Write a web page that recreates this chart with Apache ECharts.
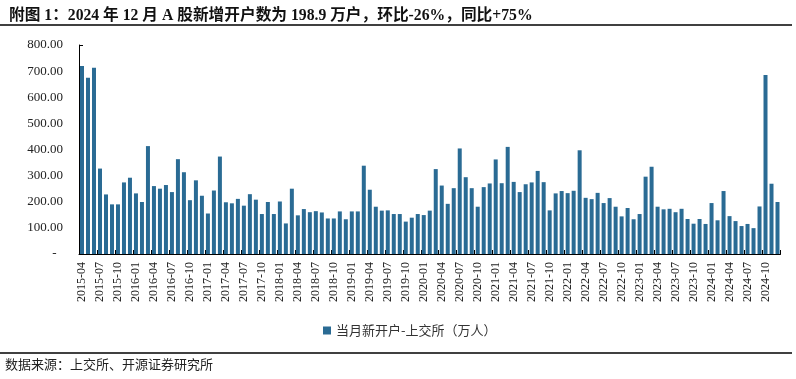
<!DOCTYPE html>
<html>
<head>
<meta charset="utf-8">
<script src="https://cdn.jsdelivr.net/npm/echarts@6/dist/echarts.min.js"></script>
<style>
html,body{margin:0;padding:0;background:#fff;}
#c{width:796px;height:379px;}
</style>
</head>
<body>
<div id="c"></div>
<script>
// Month categories 2015-04 .. 2024-12
var startYear = 2015, startMonth = 4, monthCount = 117;
var categories = [];
for (var i = 0; i < monthCount; i++) {
  var m = startMonth - 1 + i;
  var y = startYear + Math.floor(m / 12);
  var mm = (m % 12) + 1;
  categories.push(y + '-' + (mm < 10 ? '0' + mm : mm));
}

// 当月新开户-上交所（万人）
var newAccounts = [
  720, 675, 713, 327, 228, 190, 190, 274, 292, 232, 199, 413,
  260, 250, 264, 237, 363, 313, 206, 282, 223, 155, 243, 373,
  198, 194, 211, 185, 229, 208, 153, 199, 153, 201, 117, 250,
  148, 172, 160, 164, 159, 136, 136, 163, 133, 163, 163, 338,
  246, 181, 166, 167, 153, 153, 124, 139, 153, 149, 166, 325,
  262, 192, 252, 404, 294, 252, 181, 256, 270, 362, 271, 410,
  276, 237, 267, 274, 318, 275, 167, 232, 241, 233, 242, 397,
  215, 210, 234, 195, 214, 181, 144, 176, 133, 153, 296, 334,
  181, 171, 173, 160, 173, 134, 116, 134, 115, 195, 129, 241,
  145, 126, 107, 115, 99, 182, 685, 269, 199
];

var seriesName = '当月新开户-上交所（万人）';
var titleText = '附图 1：2024 年 12 月 A 股新增开户数为 198.9 万户，环比-26%，同比+75%';
var sourceText = '数据来源：上交所、开源证券研究所';
var yTicks = { min: 0, max: 800, interval: 100 };

var serif = '"Liberation Serif", "Noto Sans CJK SC", serif';
var cjk = '"Noto Sans CJK SC", sans-serif';

var chart = echarts.init(document.getElementById('c'), null, { renderer: 'canvas' });
chart.setOption({
  animation: false,
  backgroundColor: '#ffffff',
  title: {
    text: titleText,
    left: 4,
    top: 3,
    textStyle: { fontFamily: serif, fontWeight: 'bold', fontSize: 15.7, color: '#111' }
  },
  graphic: [
    { type: 'line', shape: { x1: 0, y1: 25, x2: 792, y2: 25 }, style: { stroke: '#000', lineWidth: 1.5 } },
    { type: 'line', shape: { x1: 0, y1: 353, x2: 792, y2: 353 }, style: { stroke: '#000', lineWidth: 1.5 } },
    { type: 'text', left: 5, top: 358, style: { text: sourceText, font: '13px ' + cjk, fill: '#222' } }
  ],
  legend: {
    data: [seriesName],
    left: 318,
    top: 319,
    itemWidth: 8,
    itemHeight: 8,
    itemGap: 4,
    icon: 'rect',
    textStyle: { fontFamily: cjk, fontSize: 13, color: '#333' }
  },
  grid: { left: 79, right: 15.5, top: 45, bottom: 125, containLabel: false },
  xAxis: {
    type: 'category',
    data: categories,
    boundaryGap: true,
    axisLine: { lineStyle: { color: '#000', width: 1 } },
    axisTick: { show: true, inside: true, length: 4, interval: 2, alignWithLabel: false, lineStyle: { color: '#000' } },
    axisLabel: { interval: 2, rotate: 90, margin: 8, fontFamily: serif, fontSize: 12, color: '#222' },
    splitLine: { show: false }
  },
  yAxis: {
    type: 'value',
    min: yTicks.min,
    max: yTicks.max,
    interval: yTicks.interval,
    axisLine: { show: true, lineStyle: { color: '#000', width: 1 } },
    axisTick: { show: true, inside: true, length: 4, lineStyle: { color: '#000' } },
    axisLabel: {
      margin: 16,
      fontFamily: serif, fontSize: 13, color: '#222',
      formatter: function (v) { return v === 0 ? '-  ' : v.toFixed(2); }
    },
    splitLine: { show: false }
  },
  series: [{
    name: seriesName,
    type: 'bar',
    data: newAccounts,
    barWidth: 4,
    itemStyle: { color: '#2a6b94' }
  }]
});
</script>
</body>
</html>
